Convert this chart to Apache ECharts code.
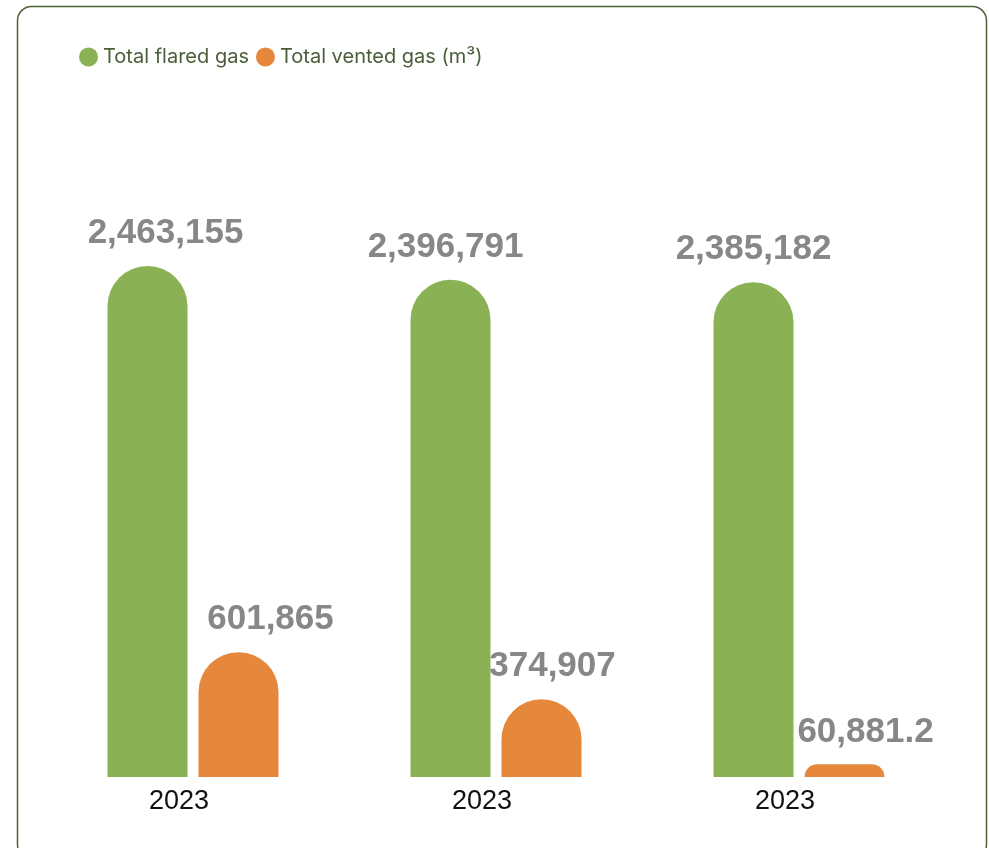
<!DOCTYPE html>
<html>
<head>
<meta charset="utf-8">
<script src="https://cdn.jsdelivr.net/npm/echarts@6/dist/echarts.min.js"></script>
<style>
  html, body { margin: 0; padding: 0; background: #ffffff; }
  #chart { width: 989px; height: 848px; }
</style>
</head>
<body>
<div id="chart"></div>
<script>
// Gas flaring and venting volumes (m³)
const categories = ['2023', '2023', '2023'];
const flaredGas = [2463155, 2396791, 2385182];
const ventedGas = [601865, 374907, 60881.2];
const seriesNames = ['Total flared gas', 'Total vented gas (m³)'];

// horizontal nudges for the value labels
const flaredLabelShift = [18, -5, 0];
const ventedLabelShift = [32, 11, 21];

const GREEN = '#8ab254';
const ORANGE = '#e5883c';
const LABEL_GREY = '#878787';

function fmt(v) {
  const parts = String(v).split('.');
  parts[0] = parts[0].replace(/\B(?=(\d{3})+(?!\d))/g, ',');
  return parts.join('.');
}

function withLabels(values, shifts) {
  return values.map((v, i) => ({
    value: v,
    label: { offset: [shifts[i], 0] }
  }));
}

const valueLabel = {
  show: true,
  position: 'top',
  distance: 15,
  fontFamily: '"Liberation Sans", Arial, sans-serif',
  fontWeight: 'bold',
  fontSize: 35,
  color: LABEL_GREY,
  formatter: p => fmt(p.value)
};

const chart = echarts.init(document.getElementById('chart'), null, { renderer: 'canvas' });

chart.setOption({
  animation: false,
  backgroundColor: '#ffffff',
  graphic: [{
    type: 'rect',
    shape: { x: 17.5, y: 6.5, width: 969, height: 852, r: 14 },
    style: { fill: 'none', stroke: '#4d6139', lineWidth: 1.5 },
    silent: true,
    z: -1
  }],
  legend: {
    left: 79,
    top: 47,
    padding: 0,
    icon: 'circle',
    itemWidth: 19,
    itemHeight: 19,
    itemGap: 7,
    textStyle: {
      fontFamily: 'Inter, "Noto Sans", sans-serif',
      fontSize: 20,
      color: '#4b5e3a'
    },
    data: seriesNames
  },
  grid: {
    left: 41.5,
    width: 909,
    top: 237.6,
    bottom: 848 - 777
  },
  xAxis: {
    type: 'category',
    data: categories,
    axisLine: { show: false },
    axisTick: { show: false },
    axisLabel: {
      fontFamily: '"Liberation Sans", Arial, sans-serif',
      fontSize: 27,
      color: '#111111',
      margin: 11,
      padding: [0, 28, 0, 0]
    }
  },
  yAxis: {
    type: 'value',
    min: 0,
    max: 2600000,
    show: false,
    splitLine: { show: false }
  },
  series: [
    {
      name: seriesNames[0],
      type: 'bar',
      barWidth: 80,
      barGap: '13.75%',
      itemStyle: { color: GREEN, borderRadius: [40, 40, 0, 0] },
      label: valueLabel,
      data: withLabels(flaredGas, flaredLabelShift)
    },
    {
      name: seriesNames[1],
      type: 'bar',
      barWidth: 80,
      barGap: '13.75%',
      itemStyle: { color: ORANGE, borderRadius: [40, 40, 0, 0] },
      label: valueLabel,
      data: withLabels(ventedGas, ventedLabelShift)
    }
  ]
});
</script>
</body>
</html>
